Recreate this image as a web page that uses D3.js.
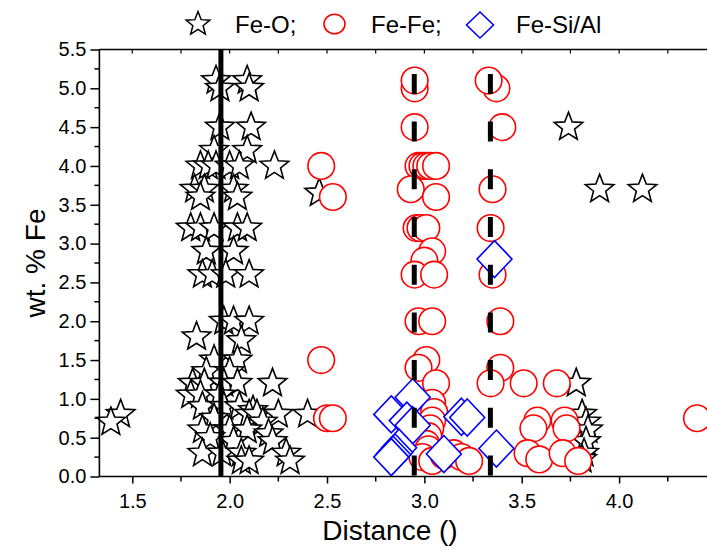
<!DOCTYPE html>
<html><head><meta charset="utf-8">
<script src="https://cdn.jsdelivr.net/npm/d3@7"></script>
<style>
html,body{margin:0;padding:0;background:#fff;}
svg{display:block;font-family:"Liberation Sans",Arial,Helvetica,sans-serif;}
</style></head>
<body>
<svg id="c" width="707" height="548"></svg>
<script>
// ---------- data ----------
const seriesNames = ["Fe-O;", "Fe-Fe;", "Fe-Si/Al"];
const xTicks = [1.5, 2.0, 2.5, 3.0, 3.5, 4.0, 4.5];
const xTickLabels = ["1.5", "2.0", "2.5", "3.0", "3.5", "4.0", ""];
const yTicks = [0, 0.5, 1, 1.5, 2, 2.5, 3, 3.5, 4, 4.5, 5, 5.5];
const refSolid = [1.955];
const refDashed = [2.948, 3.339];

// Fe-O (stars): [distance, wt% Fe]
const feO = [
  [1.93,5.1],[2.09,5.1],[1.95,5.0],[2.10,5.0],
  [1.95,4.5],[2.11,4.5],[1.92,4.2],[2.09,4.2],
  [1.85,4.0],[1.89,4.0],[1.93,4.0],[2.00,4.0],[2.05,4.0],[2.23,4.0],
  [1.82,3.7],[1.87,3.7],[2.02,3.7],[1.85,3.6],[2.04,3.6],
  [1.80,3.2],[1.85,3.2],[1.92,3.2],[2.04,3.2],[2.09,3.2],
  [1.88,2.9],[2.02,2.9],
  [1.86,2.6],[1.91,2.6],[1.98,2.6],[2.10,2.6],
  [1.97,2.0],[2.02,2.0],[2.10,2.0],
  [1.83,1.8],[2.06,1.75],
  [1.92,1.5],[2.04,1.5],[1.88,1.35],[2.0,1.35],
  [1.81,1.2],[1.87,1.2],[1.97,1.2],[2.04,1.2],[2.22,1.2],
  [1.80,1.05],[1.85,1.05],[1.95,1.05],
  [1.86,0.9],[1.97,0.9],[2.05,0.9],[2.12,0.85],
  [1.44,0.8],[2.10,0.8],[2.14,0.8],[2.25,0.8],[2.40,0.8],
  [1.39,0.7],[1.92,0.75],[2.17,0.7],
  [1.86,0.6],[2.00,0.6],[2.09,0.6],[2.20,0.55],
  [1.90,0.5],[2.02,0.45],[2.22,0.45],
  [1.86,0.3],[1.96,0.3],[2.06,0.3],[2.29,0.3],
  [2.06,0.2],[2.10,0.2],[2.31,0.2],
  [2.46,3.65],[3.74,4.5],[3.90,3.7],[4.12,3.7],[3.78,1.2],
  [3.81,0.8],[3.83,0.7],[3.84,0.6],[3.83,0.45],[3.82,0.3],[3.81,0.22]
];

// Fe-Fe (circles)
const feFe = [
  [2.47,4.0],[2.53,3.6],[2.47,1.5],[2.50,0.75],[2.53,0.75],
  [2.95,5.0],[2.95,5.1],[3.37,5.0],[3.33,5.1],
  [2.95,4.5],[3.40,4.5],
  [2.97,4.0],[2.99,4.0],[3.01,4.0],[3.03,4.0],[3.06,4.0],
  [2.93,3.7],[3.06,3.6],[3.35,3.7],
  [2.96,3.2],[2.98,3.2],[3.01,3.2],[3.34,3.2],
  [3.04,2.9],[3.00,2.78],[2.95,2.6],[3.05,2.6],[3.35,2.6],
  [2.97,2.0],[3.04,2.0],[3.39,2.0],
  [3.01,1.5],[2.97,1.4],[3.39,1.4],
  [3.06,1.2],[3.34,1.2],[3.51,1.2],[3.68,1.2],
  [3.04,0.95],[3.05,0.83],[3.04,0.72],[3.03,0.62],[3.02,0.52],[3.01,0.42],[3.02,0.35],
  [2.99,0.25],[3.04,0.2],[3.10,0.27],[3.15,0.3],[3.19,0.25],[3.23,0.2],
  [3.58,0.72],[3.56,0.62],[3.72,0.72],[3.73,0.62],
  [3.53,0.3],[3.59,0.22],[3.71,0.3],[3.79,0.2],
  [4.40,0.75]
];

// Fe-Si/Al (diamonds)
const feSiAl = [
  [2.94,1.02],[2.83,0.8],[2.91,0.72],[2.94,0.66],[3.19,0.77],[3.22,0.76],
  [2.87,0.37],[2.85,0.31],[2.84,0.28],[2.83,0.25],[3.10,0.29],[3.37,0.36],[3.36,2.8]
];

// ---------- chart ----------
const svg = d3.select("#c");
const x = d3.scaleLinear().domain([1.5, 4.0]).range([132.3, 619.1]);
const y = d3.scaleLinear().domain([0, 5.5]).range([476.5, 49.5]);
const xMin = 1.331, xMax = 4.6;

const starType = {
  draw(ctx, size) {
    const R = Math.sqrt(size), r = R * 0.43;
    for (let k = 0; k < 10; k++) {
      const a = -Math.PI / 2 + k * Math.PI / 5, rr = k % 2 ? r : R;
      const px = rr * Math.cos(a), py = rr * Math.sin(a);
      k ? ctx.lineTo(px, py) : ctx.moveTo(px, py);
    }
    ctx.closePath();
  }
};
const diamondType = (hw, hh) => ({
  draw(ctx) {
    ctx.moveTo(0, -hh); ctx.lineTo(hw, 0); ctx.lineTo(0, hh); ctx.lineTo(-hw, 0); ctx.closePath();
  }
});

const plot = svg.append("g");

// minor ticks
const xMinor = d3.range(1.5, 4.6, 0.25).filter(v => Math.abs(v*2 - Math.round(v*2)) > 0.01);
const yMinor = d3.range(0.25, 5.5, 0.5);

// axes
const xAxis = d3.axisBottom(x).tickValues(xTicks).tickFormat((d, i) => xTickLabels[i]).tickSize(7).tickSizeOuter(0);
const gx = svg.append("g").attr("transform", "translate(0,476.5)").call(xAxis);
gx.select(".domain").remove();
gx.selectAll("text").attr("font-size", 20).attr("dy", "0.71em").attr("y", 17.5).attr("fill", "#000");
gx.selectAll(".tick line").attr("stroke-width", 1.5);
svg.append("g").selectAll("line").data(xMinor).join("line")
  .attr("x1", d => x(d)).attr("x2", d => x(d)).attr("y1", 476.5).attr("y2", 481.5)
  .attr("stroke", "#000").attr("stroke-width", 1.5);

const yAxis = d3.axisLeft(y).tickValues(yTicks).tickFormat(d3.format(".1f")).tickSize(9).tickSizeOuter(0);
const gy = svg.append("g").attr("transform", `translate(${x(xMin)},0)`).call(yAxis);
gy.select(".domain").remove();
gy.selectAll("text").attr("font-size", 20).attr("x", -13).attr("fill", "#000");
gy.selectAll(".tick line").attr("stroke-width", 1.5);
svg.append("g").selectAll("line").data(yMinor).join("line")
  .attr("x1", x(xMin) - 5).attr("x2", x(xMin)).attr("y1", d => y(d)).attr("y2", d => y(d))
  .attr("stroke", "#000").attr("stroke-width", 1.5);

// top ticks (inward)
svg.append("g").selectAll("line").data(xTicks.concat(xMinor)).join("line")
  .attr("x1", d => x(d)).attr("x2", d => x(d)).attr("y1", y(5.5)).attr("y2", y(5.5) + 4)
  .attr("stroke", "#000").attr("stroke-width", 1.2);

// markers
plot.append("g").selectAll("path").data(feO).join("path")
  .attr("transform", d => `translate(${x(d[0])},${y(d[1])})`)
  .attr("d", d3.symbol().type(starType).size(15 * 15))
  .attr("fill", "#fff").attr("stroke", "#000").attr("stroke-width", 1.6).attr("stroke-linejoin", "miter");

plot.append("g").selectAll("circle").data(feFe).join("circle")
  .attr("cx", d => x(d[0])).attr("cy", d => y(d[1])).attr("r", 13.3)
  .attr("fill", "#fff").attr("stroke", "#ff0000").attr("stroke-width", 1.6);

plot.append("g").selectAll("path").data(feSiAl).join("path")
  .attr("transform", d => `translate(${x(d[0])},${y(d[1])})`)
  .attr("d", d3.symbol().type(diamondType(17.5, 18.5)))
  .attr("fill", "#fff").attr("stroke", "#0000ff").attr("stroke-width", 1.6);

// reference lines
svg.append("g").selectAll("line").data(refSolid).join("line")
  .attr("x1", d => x(d)).attr("x2", d => x(d)).attr("y1", y(0)).attr("y2", y(5.5))
  .attr("stroke", "#000").attr("stroke-width", 5);
svg.append("g").selectAll("line").data(refDashed).join("line")
  .attr("x1", d => x(d)).attr("x2", d => x(d)).attr("y1", y(0) - 1).attr("y2", y(5.5))
  .attr("stroke", "#000").attr("stroke-width", 5).attr("stroke-dasharray", "20,27.7");

// frame
svg.append("line").attr("x1", x(xMin)).attr("x2", x(xMax)).attr("y1", y(0)).attr("y2", y(0)).attr("stroke", "#000").attr("stroke-width", 1.6);
svg.append("line").attr("x1", x(xMin)).attr("x2", x(xMax)).attr("y1", y(5.5)).attr("y2", y(5.5)).attr("stroke", "#000").attr("stroke-width", 1.6);
svg.append("line").attr("x1", x(xMin)).attr("x2", x(xMin)).attr("y1", y(0)).attr("y2", y(5.5)).attr("stroke", "#000").attr("stroke-width", 1.6);

// axis titles
svg.append("text").attr("x", 390).attr("y", 540).attr("text-anchor", "middle").attr("font-size", 28).text("Distance ()");
svg.append("text").attr("transform", "translate(45,263) rotate(-90)").attr("text-anchor", "middle").attr("font-size", 28).text("wt. % Fe");

// legend
const lg = svg.append("g");
lg.append("path").attr("transform", "translate(198,24)").attr("d", d3.symbol().type(starType).size(12.5 * 12.5))
  .attr("fill", "#fff").attr("stroke", "#000").attr("stroke-width", 1.5);
lg.append("ellipse").attr("cx", 334.5).attr("cy", 24).attr("rx", 10.5).attr("ry", 9.8)
  .attr("fill", "#fff").attr("stroke", "#ff0000").attr("stroke-width", 1.6);
lg.append("path").attr("transform", "translate(480,25)").attr("d", d3.symbol().type(diamondType(13.5, 13)))
  .attr("fill", "#fff").attr("stroke", "#0000ff").attr("stroke-width", 1.6);
const lx = [235, 371, 516];
lg.selectAll("text").data(seriesNames).join("text")
  .attr("x", (d, i) => lx[i]).attr("y", 32.5).attr("font-size", 24).text(d => d);
</script>
</body></html>
